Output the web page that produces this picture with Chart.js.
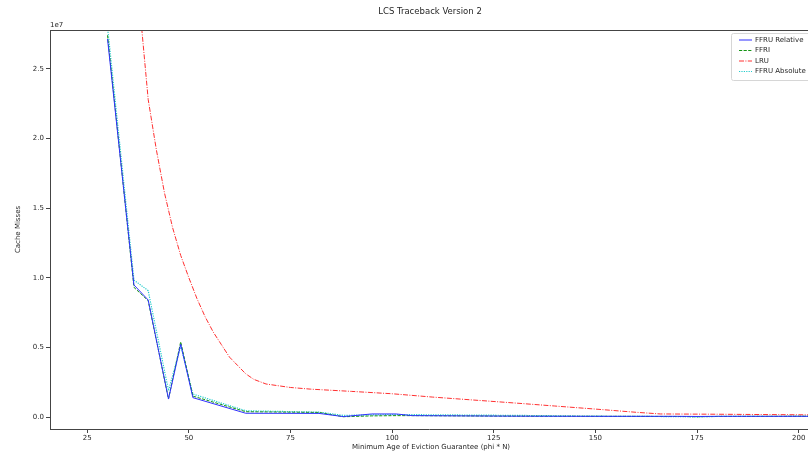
<!DOCTYPE html>
<html>
<head>
<meta charset="utf-8">
<script src="https://cdn.jsdelivr.net/npm/chart.js@4/dist/chart.umd.min.js"></script>
<style>
  html, body { margin: 0; padding: 0; background: #fff; }
  #wrap { width: 808px; height: 453px; }
</style>
</head>
<body>
<div id="wrap"><canvas id="c" width="808" height="453"></canvas></div>
<script>
// Minimum age of eviction guarantee (phi * N) sampled for the FFRU / FFRI runs
const phi = [30, 36.5, 40, 45, 48, 51, 64, 82, 88, 95, 101, 105, 130, 150, 170, 175, 180, 200, 215];
const ffruRelative = [27140000, 9480000, 8400000, 1290000, 5220000, 1390000, 270000, 260000, 30000, 220000, 220000, 100000, 60000, 50000, 50000, 40000, 50000, 50000, 50000];
const ffri = [27400000, 9310000, 8350000, 1300000, 5400000, 1500000, 380000, 330000, 20000, 80000, 100000, 100000, 60000, 50000, 40000, 20000, 40000, 50000, 50000];
const ffruAbsolute = [28000000, 9830000, 9070000, 1900000, 5100000, 1650000, 450000, 350000, 120000, 150000, 180000, 170000, 120000, 60000, 30000, 10000, 40000, 60000, 60000];

// LRU was sampled on its own grid
const lruPhi = [36, 38, 40, 42, 44, 46, 48, 50, 52, 54, 56, 58, 60, 62, 64, 66, 69, 75, 80, 90, 100, 110, 120, 130, 140, 150, 160, 166, 180, 200, 215];
const lru = [38000000, 29200000, 22800000, 19200000, 16100000, 13600000, 11600000, 10000000, 8500000, 7200000, 6100000, 5200000, 4300000, 3700000, 3100000, 2700000, 2370000, 2120000, 2000000, 1840000, 1670000, 1430000, 1220000, 1010000, 790000, 570000, 340000, 220000, 200000, 160000, 150000];

const xTicks = [25, 50, 75, 100, 125, 150, 175, 200];
const yTicks = [0, 5000000, 10000000, 15000000, 20000000, 25000000];

const seriesNames = ['FFRU Relative', 'FFRI', 'LRU', 'FFRU Absolute'];

const FONT = 'DejaVu Sans, sans-serif';
const INK = '#262626';

const pts = (xs, ys) => xs.map((x, i) => ({ x: x, y: ys[i] }));

const styles = [
  { color: '#2f2fff', dash: [] },
  { color: '#149414', dash: [3.2, 1.4] },
  { color: '#ff3030', dash: [5, 1.4, 1, 1.4] },
  { color: '#22cccc', dash: [1.2, 1.2] }
];

const decor = {
  id: 'decor',
  afterDraw(chart) {
    const ctx = chart.ctx;
    const a = chart.chartArea;
    ctx.save();
    // top spine
    ctx.strokeStyle = '#444';
    ctx.lineWidth = 1;
    ctx.beginPath();
    ctx.moveTo(a.left, a.top + 0.5);
    ctx.lineTo(a.right, a.top + 0.5);
    ctx.stroke();

    ctx.fillStyle = INK;
    // title
    ctx.font = '8.5px ' + FONT;
    ctx.textAlign = 'center';
    ctx.textBaseline = 'middle';
    ctx.fillText('LCS Traceback Version 2', 430, 12);
    // axis labels
    ctx.font = '7px ' + FONT;
    ctx.fillText('Minimum Age of Eviction Guarantee (phi * N)', 431, 447);
    ctx.save();
    ctx.translate(18, 229.5);
    ctx.rotate(-Math.PI / 2);
    ctx.fillText('Cache Misses', 0, 0);
    ctx.restore();
    // offset text for the y axis
    ctx.textAlign = 'left';
    ctx.fillText('1e7', a.left, 25);

    // legend
    const bx = 731, by = 33, bw = 90, bh = 47;
    ctx.fillStyle = 'rgba(255,255,255,0.85)';
    ctx.strokeStyle = '#d6d6d6';
    ctx.lineWidth = 1;
    ctx.beginPath();
    ctx.roundRect(bx + 0.5, by + 0.5, bw, bh, 2);
    ctx.fill();
    ctx.stroke();
    const rows = [40, 50.5, 61, 71.5];
    seriesNames.forEach((name, i) => {
      const s = styles[i];
      ctx.strokeStyle = s.color;
      ctx.setLineDash(s.dash);
      ctx.lineWidth = 1;
      ctx.beginPath();
      ctx.moveTo(739, rows[i]);
      ctx.lineTo(752, rows[i]);
      ctx.stroke();
      ctx.setLineDash([]);
      ctx.fillStyle = INK;
      ctx.textBaseline = 'middle';
      ctx.fillText(name, 755, rows[i]);
    });
    ctx.restore();
  }
};

const datasets = [
  { label: seriesNames[0], data: pts(phi, ffruRelative) },
  { label: seriesNames[1], data: pts(phi, ffri) },
  { label: seriesNames[2], data: pts(lruPhi, lru) },
  { label: seriesNames[3], data: pts(phi, ffruAbsolute) }
].map((d, i) => Object.assign(d, {
  borderColor: styles[i].color,
  borderDash: styles[i].dash,
  borderWidth: i === 3 ? 1.2 : 1,
  pointRadius: 0,
  tension: 0,
  fill: false
}));

new Chart(document.getElementById('c'), {
  type: 'line',
  data: { datasets: datasets },
  options: {
    responsive: false,
    devicePixelRatio: 1,
    animation: false,
    layout: { padding: { top: 30, left: 0, right: 0, bottom: 0 } },
    plugins: {
      legend: { display: false },
      title: { display: false },
      tooltip: { enabled: false }
    },
    scales: {
      x: {
        type: 'linear',
        min: 15.85,
        max: 202.3,
        afterFit: (s) => { s.height = 24; },
        afterBuildTicks: (s) => { s.ticks = xTicks.map(v => ({ value: v })); },
        border: { display: true, color: '#444', width: 1 },
        grid: { display: true, drawOnChartArea: false, drawTicks: true, tickLength: 4, tickColor: '#444' },
        ticks: {
          padding: 1,
          maxRotation: 0,
          autoSkip: false,
          color: INK,
          font: { family: FONT, size: 7 },
          callback: (v) => String(v)
        }
      },
      y: {
        type: 'linear',
        min: -860000,
        max: 27780000,
        afterFit: (s) => { s.width = 50; },
        afterBuildTicks: (s) => { s.ticks = yTicks.map(v => ({ value: v })); },
        border: { display: true, color: '#444', width: 1 },
        grid: { display: true, drawOnChartArea: false, drawTicks: true, tickLength: 4, tickColor: '#444' },
        ticks: {
          padding: 2,
          autoSkip: false,
          color: INK,
          font: { family: FONT, size: 7 },
          callback: (v) => (v / 10000000).toFixed(1)
        }
      }
    }
  },
  plugins: [decor]
});
</script>
</body>
</html>
